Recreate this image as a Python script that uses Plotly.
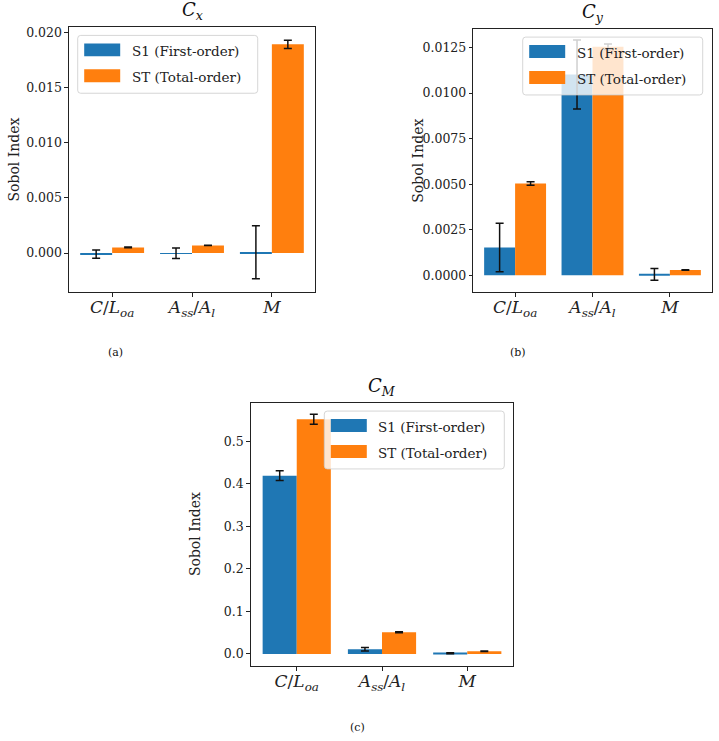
import plotly.graph_objects as go

W, H = 719, 741

# ---------------- data ----------------
categories = ["C/Loa", "Ass/Al", "M"]
tick_labels = [
    "<i>C</i>/<i>L</i><sub><i>oa</i></sub>",
    "<i>A</i><sub><i>ss</i></sub>/<i>A</i><sub><i>l</i></sub>",
    "<i>M</i>",
]
x_pos = [0, 1, 2]
series_names = ["S1 (First-order)", "ST (Total-order)"]

cx_s1 = [-0.0001, -0.00002, 0.00006]
cx_s1_err = [0.00038, 0.00047, 0.0024]
cx_st = [0.00051, 0.00069, 0.0189]
cx_st_err = [0.00003, 0.00002, 0.00038]

cy_s1 = [0.00153, 0.01102, 0.00005]
cy_s1_err = [0.00133, 0.0019, 0.00032]
cy_st = [0.00504, 0.01254, 0.00029]
cy_st_err = [0.0001, 0.00015, 0.00002]

cm_s1 = [0.419, 0.0109, 0.0016]
cm_s1_err = [0.0117, 0.004, 0.0012]
cm_st = [0.5516, 0.0508, 0.0063]
cm_st_err = [0.0117, 0.001, 0.0006]

cx_ticks = [0, 0.005, 0.01, 0.015, 0.02]
cy_ticks = [0, 0.0025, 0.005, 0.0075, 0.01, 0.0125]
cm_ticks = [0, 0.1, 0.2, 0.3, 0.4, 0.5]

BLUE = "#1f77b4"
ORANGE = "#ff7f0e"
FONT = "DejaVu Serif"


def px(p):
    return p / W


def py(p):
    return 1 - p / H


panels = [
    dict(s1=cx_s1, s1e=cx_s1_err, st=cx_st, ste=cx_st_err,
         box=(69, 315, 25, 291), yr=[-0.00355, 0.02048], tv=cx_ticks, fmt=".3f",
         title="<i>C</i><sub><i>x</i></sub>", leg="left", label="(a)", lab_xy=(115, 351)),
    dict(s1=cy_s1, s1e=cy_s1_err, st=cy_st, ste=cy_st_err,
         box=(473.3, 711.7, 26.7, 291), yr=[-0.00093, 0.013538], tv=cy_ticks, fmt=".4f",
         title="<i>C</i><sub><i>y</i></sub>", leg="right", label="(b)", lab_xy=(518, 351)),
    dict(s1=cm_s1, s1e=cm_s1_err, st=cm_st, ste=cm_st_err,
         box=(250.7, 513.3, 401.7, 666), yr=[-0.0289, 0.5906], tv=cm_ticks, fmt=".1f",
         title="<i>C</i><sub><i>M</i></sub>", leg="right", label="(c)", lab_xy=(357, 727)),
]

fig = go.Figure()
shapes = []
annotations = []
layout_axes = {}

for i, p in enumerate(panels, start=1):
    xa = "x" if i == 1 else f"x{i}"
    ya = "y" if i == 1 else f"y{i}"
    x0, x1, y0, y1 = p["box"]
    fig.add_trace(go.Bar(
        x=x_pos, y=p["s1"], width=0.4, offset=-0.4, marker=dict(color=BLUE, line=dict(width=0)),
        error_y=dict(type="data", array=p["s1e"], color="#111", thickness=1.5, width=4),
        name=series_names[0], showlegend=False, xaxis=xa, yaxis=ya))
    fig.add_trace(go.Bar(
        x=x_pos, y=p["st"], width=0.4, offset=0.0, marker=dict(color=ORANGE, line=dict(width=0)),
        error_y=dict(type="data", array=p["ste"], color="#111", thickness=1.5, width=4),
        name=series_names[1], showlegend=False, xaxis=xa, yaxis=ya))

    common = dict(showline=True, linecolor="#222", linewidth=1.1, mirror=True,
                  ticks="outside", ticklen=3.5, tickwidth=0.9, tickcolor="#222",
                  showgrid=False, zeroline=False)
    layout_axes["xaxis" if i == 1 else f"xaxis{i}"] = dict(
        domain=[px(x0), px(x1)], anchor=ya, range=[-0.54, 2.54],
        tickvals=x_pos, ticktext=tick_labels, ticklabelstandoff=-4,
        tickfont=dict(family=FONT, size=17, color="#222"), **common)
    layout_axes["yaxis" if i == 1 else f"yaxis{i}"] = dict(
        domain=[py(y1), py(y0)], anchor=xa, range=p["yr"],
        tickvals=p["tv"], tickformat=p["fmt"],
        tickfont=dict(family=FONT, size=12.5, color="#222"), **common)

    # title
    annotations.append(dict(text=p["title"], x=px((x0 + x1) / 2), y=py(y0 - 2), xref="paper", yref="paper",
                            xanchor="center", yanchor="bottom", showarrow=False,
                            font=dict(family=FONT, size=18, color="#111")))
    # y label
    annotations.append(dict(text="Sobol Index", x=px(x0 - 55), y=py((y0 + y1) / 2), xref="paper", yref="paper",
                            xanchor="center", yanchor="middle", textangle=-90, showarrow=False,
                            font=dict(family=FONT, size=14, color="#222")))
    # panel label
    annotations.append(dict(text=p["label"], x=px(p["lab_xy"][0]), y=py(p["lab_xy"][1]), xref="paper", yref="paper",
                            xanchor="center", yanchor="middle", showarrow=False,
                            font=dict(family=FONT, size=11, color="#111")))

    # legend (manual)
    lw, lh = 180, 58
    if p["leg"] == "left":
        lx0 = x0 + 8.7
    else:
        lx0 = x1 - 9 - lw
    ly0 = y0 + 8.5
    lx1, ly1 = lx0 + lw, ly0 + lh
    r = 3
    path = (f"M {px(lx0 + r)},{py(ly0)} L {px(lx1 - r)},{py(ly0)} Q {px(lx1)},{py(ly0)} {px(lx1)},{py(ly0 + r)} "
            f"L {px(lx1)},{py(ly1 - r)} Q {px(lx1)},{py(ly1)} {px(lx1 - r)},{py(ly1)} "
            f"L {px(lx0 + r)},{py(ly1)} Q {px(lx0)},{py(ly1)} {px(lx0)},{py(ly1 - r)} "
            f"L {px(lx0)},{py(ly0 + r)} Q {px(lx0)},{py(ly0)} {px(lx0 + r)},{py(ly0)} Z")
    shapes.append(dict(type="path", path=path, xref="paper", yref="paper", layer="above",
                       fillcolor="rgba(255,255,255,0.8)", line=dict(color="rgba(204,204,204,0.8)", width=1)))
    for k, (col, name) in enumerate(zip([BLUE, ORANGE], series_names)):
        cy = ly0 + 15 + 26 * k
        shapes.append(dict(type="rect", xref="paper", yref="paper", layer="above",
                           x0=px(lx0 + 6.5), x1=px(lx0 + 42.5), y0=py(cy - 7), y1=py(cy + 6),
                           fillcolor=col, line=dict(width=0)))
        annotations.append(dict(text=name, x=px(lx0 + 52), y=py(cy + 1), xref="paper", yref="paper",
                                xanchor="left", yanchor="middle", showarrow=False,
                                font=dict(family=FONT, size=13.5, color="#222")))

fig.update_layout(
    width=W, height=H, margin=dict(l=0, r=0, t=0, b=0),
    paper_bgcolor="white", plot_bgcolor="white",
    barmode="overlay", showlegend=False,
    shapes=shapes, annotations=annotations,
    font=dict(family=FONT),
    **layout_axes,
)

fig.write_html("out.html")
